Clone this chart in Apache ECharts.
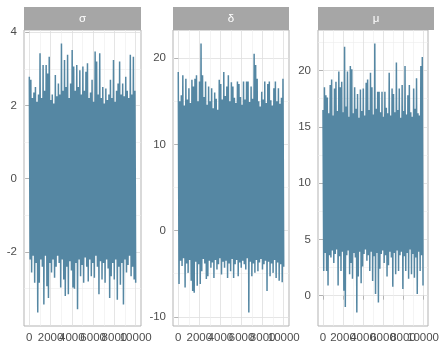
<!DOCTYPE html>
<html><head><meta charset="utf-8">
<script src="https://cdn.jsdelivr.net/npm/echarts@6/dist/echarts.min.js"></script>
<style>html,body{margin:0;padding:0;background:#fff}#c{width:442px;height:352px}</style>
</head><body><div id="c"></div>
<script>
// Trace values: alternating upper / lower excursions of each chain
const panelNames = ['σ', 'δ', 'μ'];
const sigmaUpper = [2.78,2.7,2.2,2.35,2.5,2.1,2.3,3.42,2.2,3.1, 2.4,3.1,2.87,3.33,2.15,2.3,2.05,2.83,2.25,2.6, 2.3,3.69,2.4,3.24,2.5,3.38,2.2,2.6,3.51,3.06, 2.4,3.1,2.5,2.96,2.3,3.06,2.4,2.92,3.15,2.2, 2.35,2.7,2.1,3.47,3.2,2.3,3.42,2.2,2.5,2.05, 2.46,2.15,2.3,2.7,2.2,3.24,2.1,2.4,2.6,3.2, 2.3,2.6,2.25,2.78,2.4,2.2,3.38,2.3,3.33,2.4];
const sigmaLower = [-2.2,-2.56,-2.1,-2.84,-2.3,-3.65,-2.84,-2.2,-2.4,-3.43, -2.1,-2.93,-3.25,-2.3,-2.56,-2.2,-2.7,-2.4,-2.1,-2.3, -2.97,-2.2,-2.75,-3.2,-2.4,-3.15,-2.25,-2.5,-2.97,-3.0, -2.3,-3.56,-2.2,-2.66,-2.35,-2.84,-2.15,-2.4,-2.8,-2.2, -2.66,-2.3,-2.7,-2.1,-2.4,-3.15,-2.25,-2.75,-2.3,-2.84, -2.2,-2.45,-3.25,-2.66,-2.3,-2.75,-2.2,-3.3,-2.4,-2.89, -2.3,-3.43,-2.2,-2.56,-2.35,-2.1,-2.66,-2.4,-2.75,-2.84];
const deltaUpper = [18.4,15.0,15.7,18.0,14.5,17.6,15.2,16.5,14.8,17.5, 16.7,17.6,18.0,15.0,17.3,21.7,18.0,15.5,17.3,14.6, 16.7,15.0,16.5,14.2,16.0,15.3,14.0,17.5,17.0,15.2, 18.4,15.6,16.7,18.0,15.0,17.2,16.7,15.4,14.8,17.3, 17.0,15.5,14.6,17.3,15.2,17.3,17.3,14.9,16.7,15.3, 20.5,19.2,17.6,15.0,14.4,16.1,15.2,17.3,14.8,17.0, 17.3,15.1,14.5,16.5,17.3,15.0,16.5,14.7,15.4,17.6];
const deltaLower = [-6.2,-3.5,-4.1,-3.2,-6.6,-3.8,-4.9,-3.4,-5.8,-7.0, -7.2,-3.6,-6.4,-3.9,-6.2,-4.7,-3.3,-3.8,-5.6,-5.3, -3.5,-4.3,-3.7,-5.5,-3.4,-4.5,-3.9,-3.2,-5.1,-3.6, -4.3,-3.5,-5.5,-3.8,-4.7,-3.3,-5.5,-3.9,-3.4,-5.3, -3.7,-4.3,-3.5,-3.9,-4.5,-3.2,-9.5,-3.6,-5.3,-3.8, -4.9,-3.4,-4.7,-3.7,-3.3,-4.5,-3.9,-3.5,-7.0,-3.6, -5.3,-3.8,-4.9,-3.4,-5.5,-3.7,-5.8,-3.9,-6.0,-4.2];
const muUpper = [16.5,18.5,17.8,17.6,16.2,18.7,19.2,16.0,18.4,19.0, 16.4,19.9,18.5,19.0,16.3,22.1,16.8,19.9,15.9,20.4, 20.1,16.2,18.5,16.6,17.9,15.8,18.3,16.4,18.4,16.0, 18.9,19.2,16.5,19.8,18.5,16.1,22.4,16.6,18.1,18.1, 16.3,18.1,15.9,18.1,16.7,16.2,19.8,16.0,18.4,17.9, 16.3,20.7,16.5,18.4,15.8,18.7,16.4,20.4,16.1,17.8, 18.7,16.3,15.9,18.4,16.6,19.3,16.2,16.0,20.4,21.2];
const muLower = [2.2,3.8,2.2,0.9,3.6,3.4,4.0,2.9,3.7,4.1, 0.9,3.5,2.2,3.9,0.44,-1.0,3.6,4.0,1.9,2.9, 1.5,3.8,3.4,-1.5,1.7,3.9,1.1,2.6,3.7,4.1, 3.1,3.6,2.2,3.9,1.3,3.5,0.15,3.8,-0.6,2.4, 3.7,4.0,2.9,3.6,1.7,2.7,3.9,3.4,0.8,3.8, 1.9,4.0,2.2,3.6,3.9,0.6,3.5,2.2,3.8,1.5, 4.1,1.9,3.7,1.6,3.4,0.15,3.9,2.2,3.6,0.9];
const iterFirst = 1, iterLast = 10000;
const xTicks = [0, 2000, 4000, 6000, 8000, 10000];
const xMinor = [1000, 3000, 5000, 7000, 9000];
const yTicks = [[-2, 0, 2, 4], [-10, 0, 10, 20], [0, 5, 10, 15, 20]];
const yMinor = [[-3, -1, 1, 3], [-5, 5, 15], [2.5, 7.5, 12.5, 17.5, 22.5]];

const uppers = [sigmaUpper, deltaUpper, muUpper];
const lowers = [sigmaLower, deltaLower, muLower];

function trace(up, lo) {
  const vals = [];
  for (let k = 0; k < up.length; k++) { vals.push(up[k]); vals.push(lo[k]); }
  const n = vals.length;
  return vals.map((v, i) => [iterFirst + i * (iterLast - iterFirst) / (n - 1), v]);
}
function expand(lo, hi) { const r = hi - lo; return [lo - 0.05 * r, hi + 0.05 * r]; }

const FONT = 'Liberation Sans, Arial, sans-serif';
const gridPos = [{left: 24, width: 117}, {left: 173, width: 116}, {left: 318, width: 116}];
const TOP = 30, BOTTOM = 26;
const xLim = expand(iterFirst, iterLast);
// the overlapping x labels are split over two label axes so none of them gets hidden
const xLabelSets = [xTicks.filter((_, i) => i % 2 === 0), xTicks.filter((_, i) => i % 2 === 1)];

const grids = [], xAxes = [], yAxes = [], series = [], graphics = [];
const labelStyle = {margin: 6, color: '#4d4d4d', fontSize: 11.5, fontFamily: FONT,
  formatter: v => String(v), hideOverlap: false, showMinLabel: true, showMaxLabel: true};
for (let p = 0; p < 3; p++) {
  const data = trace(uppers[p], lowers[p]);
  const yLim = expand(Math.min(...lowers[p]), Math.max(...uppers[p]));
  grids.push({left: gridPos[p].left, width: gridPos[p].width, top: TOP, bottom: BOTTOM,
    show: true, borderColor: '#b3b3b3', borderWidth: 1, backgroundColor: 'transparent'});
  const majorLine = {show: true, lineStyle: {color: '#dedede', width: 0.8}};
  const minorLine = {show: true, lineStyle: {color: '#ececec', width: 0.6}};
  const base = xAxes.length;
  xAxes.push({gridIndex: p, type: 'value', min: xLim[0], max: xLim[1], position: 'bottom',
    axisLine: {show: false},
    axisTick: {show: true, length: 4, customValues: xTicks, lineStyle: {color: '#b3b3b3'}},
    axisLabel: Object.assign({show: true, customValues: xLabelSets[0]}, labelStyle),
    splitLine: majorLine});
  xAxes.push({gridIndex: p, type: 'value', min: xLim[0], max: xLim[1], position: 'bottom', offset: 0,
    axisLine: {show: false}, axisTick: {show: false, customValues: xLabelSets[1]},
    axisLabel: Object.assign({show: true, customValues: xLabelSets[1]}, labelStyle),
    splitLine: {show: false}});
  xAxes.push({gridIndex: p, type: 'value', min: xLim[0], max: xLim[1], position: 'bottom', offset: 0,
    axisLine: {show: false}, axisTick: {show: false, customValues: xMinor},
    axisLabel: {show: false}, splitLine: minorLine});
  yAxes.push({gridIndex: p, type: 'value', min: yLim[0], max: yLim[1],
    axisLine: {show: false},
    axisTick: {show: true, length: 4, customValues: yTicks[p], lineStyle: {color: '#b3b3b3'}},
    axisLabel: {show: true, customValues: yTicks[p], margin: 7, color: '#4d4d4d', fontSize: 11.5, fontFamily: FONT,
      showMinLabel: true, showMaxLabel: true},
    splitLine: majorLine});
  yAxes.push({gridIndex: p, type: 'value', min: yLim[0], max: yLim[1], position: 'left',
    axisLine: {show: false}, axisTick: {show: false, customValues: yMinor[p]},
    axisLabel: {show: false}, splitLine: minorLine});
  series.push({type: 'line', xAxisIndex: base, yAxisIndex: 2 * p, data: data,
    showSymbol: false, symbol: 'none', sampling: false, silent: true, z: 5,
    lineStyle: {color: '#5587a3', width: 1.5, join: 'bevel'}});
  graphics.push({type: 'rect', shape: {x: gridPos[p].left, y: 7, width: gridPos[p].width, height: 23},
    style: {fill: '#a6a6a6'}, silent: true});
  graphics.push({type: 'text', x: gridPos[p].left + gridPos[p].width / 2, y: 18.5,
    style: {text: panelNames[p], fill: '#ffffff', font: '11.5px ' + FONT, align: 'center', verticalAlign: 'middle'}, silent: true});
}

const chart = echarts.init(document.getElementById('c'), null, {renderer: 'canvas'});
chart.setOption({animation: false, backgroundColor: '#ffffff',
  grid: grids, xAxis: xAxes, yAxis: yAxes, series: series, graphic: graphics});
</script></body></html>
